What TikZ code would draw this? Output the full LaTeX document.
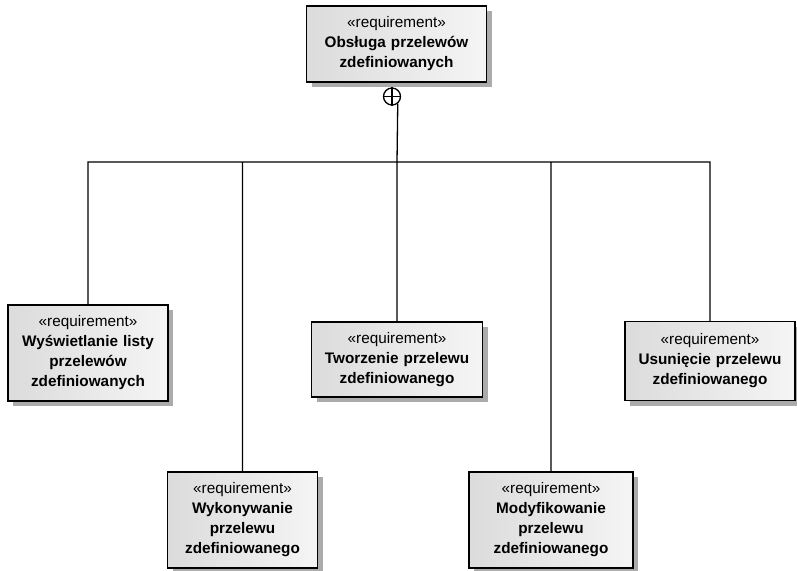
\documentclass[tikz,border=0pt]{standalone}
\usepackage{fontspec}
\setmainfont{Liberation Sans}
\usetikzlibrary{shadows}
\newcommand{\reqtext}[1]{«requirement»\\\bfseries #1}

\begin{document}
\begin{tikzpicture}[x=1pt, y=-1pt, line width=1.3pt,
		req/.style={draw, left color=black!14, right color=black!4, align=center, inner sep=0pt,
			font=\fontsize{15.3}{20}\selectfont,
			drop shadow={shadow xshift=5pt, shadow yshift=-5pt, fill=black!33, opacity=1}},
		nest/.style={draw, circle, fill=white, minimum size=17pt, inner sep=0pt}]
	\useasboundingbox (0,0) rectangle (797,570);
	\node[req, text width=180pt, minimum height=76pt] (main) at (396.5,44) {\reqtext{Obsługa przelewów\\zdefiniowanych}};
	\node[req, text width=160pt, minimum height=96pt] (list) at (88,353) {\reqtext{Wyświetlanie listy\\przelewów\\zdefiniowanych}};
	\node[req, text width=150pt, minimum height=96pt] (exec) at (242.5,520) {\reqtext{Wykonywanie\\przelewu\\zdefiniowanego}};
	\node[req, text width=171pt, minimum height=75pt] (create) at (397,359.5) {\reqtext{Tworzenie przelewu\\zdefiniowanego}};
	\node[req, text width=164pt, minimum height=96pt] (modify) at (551,520) {\reqtext{Modyfikowanie\\przelewu\\zdefiniowanego}};
	\node[req, text width=170pt, minimum height=79pt] (delete) at (710,361) {\reqtext{Usunięcie przelewu\\zdefiniowanego}};
	\node[nest] (nest) at (392,96.5) {};
	\coordinate (hub) at (397,162);
	\draw (nest.north) -- (nest.south) (nest.west) -- (nest.east);
	\draw
		(nest.-51) -- (hub)
		(list.north) |- (hub)
		(exec.north) |- (hub)
		(create.north) -- (hub)
		(modify.north) |- (hub)
		(delete.north) |- (hub);
\end{tikzpicture}
\end{document}
